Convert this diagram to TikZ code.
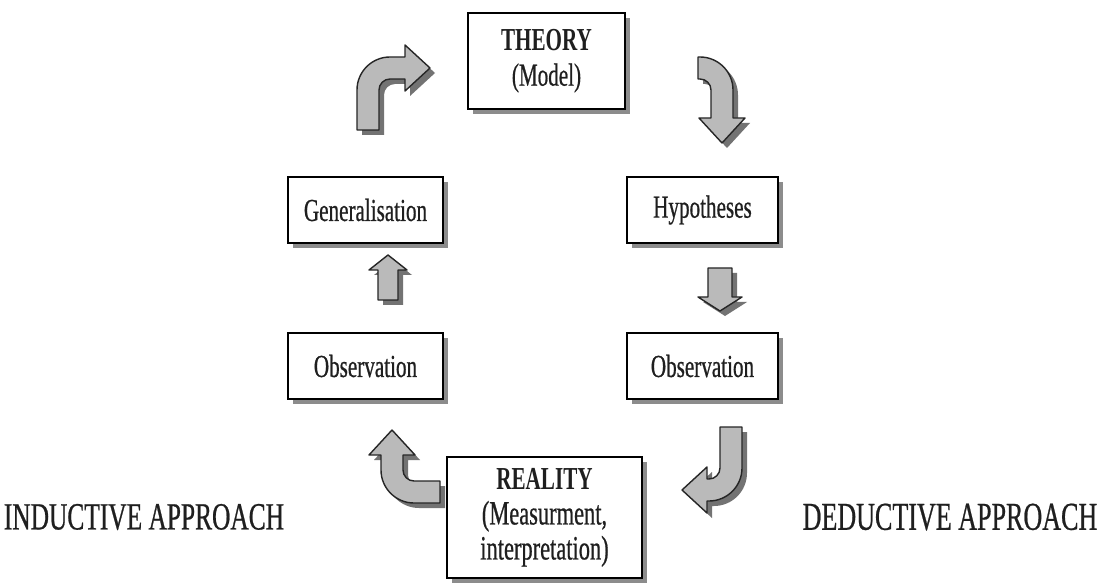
\documentclass[tikz,border=0pt]{standalone}
\usepackage{fontspec}
\setmainfont{Liberation Serif}[FakeStretch=0.66, UprightFeatures={FakeBold=0.6}]
\usetikzlibrary{shadows}

% outline of a bent block arrow: tail at the origin pointing up, turning right
\newcommand{\bentpath}[3]{% #1 straight tail, #2 centre-line radius, #3 straight part before the head
  (-11,0) -- (-11,#1) arc[start angle=180, end angle=90, radius=#2+11]
  -- ++(#3,0) -- ++(0,12) -- ++(25,-23) -- ++(-25,-23) -- ++(0,12) -- ++(-#3,0)
  arc[start angle=90, end angle=180, radius=#2-11] -- (11,0) -- cycle}
\newcommand{\bentarrow}[6]{% #1,#2 tail centre, #3 rotation, #4-#6 as above
  \begin{scope}[shift={(#1+5,#2-5)}, rotate=#3]
    \fill[arrowshade] \bentpath{#4}{#5}{#6};
  \end{scope}
  \begin{scope}[shift={(#1,#2)}, rotate=#3]
    \filldraw[arrowbody] \bentpath{#4}{#5}{#6};
  \end{scope}}

% outline of a straight block arrow pointing up from the origin
\newcommand{\straightpath}[4]{% #1 shaft length, #2 half shaft, #3 half head, #4 head length
  (-#2,0) -- (-#2,#1) -- (-#3,#1) -- (0,#1+#4) -- (#3,#1) -- (#2,#1) -- (#2,0) -- cycle}
\newcommand{\straightarrow}[7]{%
  \begin{scope}[shift={(#1+5,#2-5)}, rotate=#3]
    \fill[arrowshade] \straightpath{#4}{#5}{#6}{#7};
  \end{scope}
  \begin{scope}[shift={(#1,#2)}, rotate=#3]
    \filldraw[arrowbody] \straightpath{#4}{#5}{#6}{#7};
  \end{scope}}

\newcommand{\fs}[2]{\fontsize{#1}{#2}\selectfont}

\tikzset{
  box/.style={draw=black, line width=2.4pt, fill=white, align=center, inner sep=0pt,
    text=black!88, font=\fs{32}{35},
    drop shadow={shadow xshift=5pt, shadow yshift=-5pt, fill=black!45, opacity=1}},
  arrowbody/.style={fill=black!27, draw=black!85, line width=1.4pt, line join=round},
  arrowshade/.style={fill=black!55},
  approach/.style={text=black!88, inner sep=0pt},
}

\begin{document}
\begin{tikzpicture}[x=1pt, y=1pt]
  \useasboundingbox (0,0) rectangle (1109,582);
  \fill[white] (0,0) rectangle (1109,582);

  % boxes of the cycle
  \node[box, minimum width=157pt, minimum height=96pt] (theory) at (546.5,521)
    {\textbf{THEORY}\\(Model)};
  \node[box, minimum width=151pt, minimum height=66pt] (hyp) at (702.5,372)
    {Hypotheses};
  \node[box, minimum width=155pt, minimum height=66pt] (gen) at (365.5,372)
    {Generalisation};
  \node[box, minimum width=155pt, minimum height=66pt] (obsl) at (365.5,216)
    {Observation};
  \node[box, minimum width=151pt, minimum height=66pt] (obsr) at (702.5,216)
    {Observation};
  \node[box, minimum width=195pt, minimum height=121pt, font=\fs{34}{35}] (reality) at (544.5,64.5)
    {{\fs{32}{35}\bfseries REALITY}\\(Measurment,\\interpretation)};

  % side labels
  \node[approach, font=\fs{38.5}{40}] (ind) at (144,65) {INDUCTIVE APPROACH};
  \node[approach, font=\fs{39.5}{40}] (ded) at (950,65) {DEDUCTIVE APPROACH};

  % bent arrows around the theory and reality boxes
  \bentarrow{368}{452}{0}{40}{22}{15}
  \bentarrow{698}{514}{-90}{2}{22}{28}
  \bentarrow{731}{155}{180}{41}{22}{2}
  \bentarrow{440}{90}{90}{26}{22}{15}

  % straight arrows between the side boxes
  \straightarrow{388}{282}{0}{30}{10}{19}{15}
  \straightarrow{720}{314}{180}{29}{12}{22}{14}
\end{tikzpicture}
\end{document}
